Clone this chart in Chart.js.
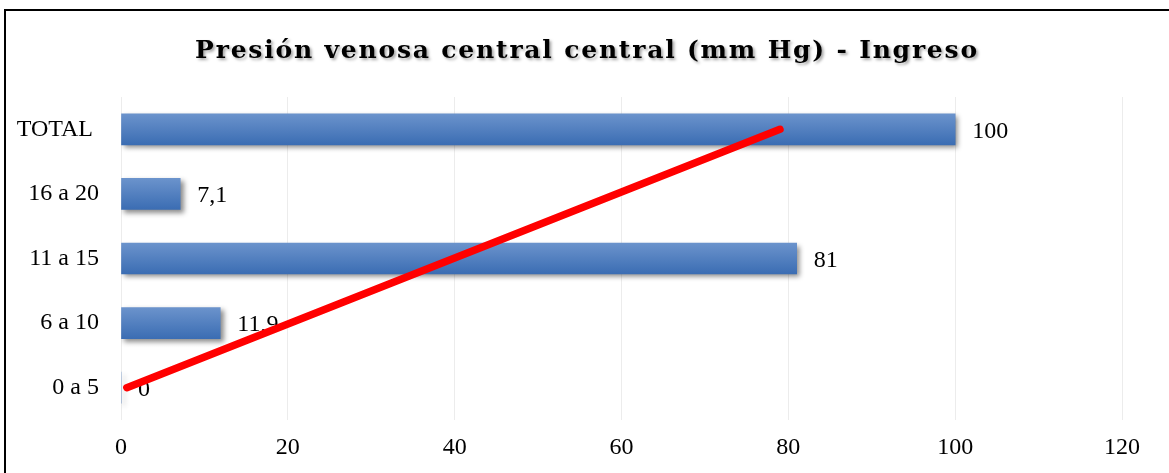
<!DOCTYPE html>
<html>
<head>
<meta charset="utf-8">
<script src="https://cdn.jsdelivr.net/npm/chart.js@4/dist/chart.umd.min.js"></script>
<style>
  html, body { margin: 0; padding: 0; background: #ffffff; }
  #wrap { position: relative; width: 1169px; height: 473px; }
</style>
</head>
<body>
<div id="wrap"><canvas id="c" width="1169" height="473"></canvas></div>
<script>
// Presión venosa central por rangos (mm Hg) al ingreso, en porcentaje
const chartTitle = 'Presión venosa central central (mm Hg) - Ingreso';
const categories = ['TOTAL ', '16 a 20', '11 a 15', '6 a 10', '0 a 5'];
const percentages = [100, 7.1, 81, 11.9, 0];
const valueLabels = ['100', '7,1', '81', '11,9', '0'];
// Línea de tendencia: valor en el eje X en cada extremo
const trendCategories = ['0 a 5', 'TOTAL '];
const trendValues = [0.7, 79];
const xTicks = [0, 20, 40, 60, 80, 100, 120];

const tickFont = { family: '"Liberation Serif", "Times New Roman", serif', size: 24 };
const BAR_THICK = 31;

// Marco negro y fondo blanco
const framePlugin = {
  id: 'frame',
  beforeDraw(chart) {
    const ctx = chart.ctx;
    ctx.save();
    ctx.fillStyle = '#ffffff';
    ctx.fillRect(0, 0, chart.width, chart.height);
    ctx.fillStyle = '#000000';
    ctx.fillRect(4, 9, chart.width, 2);
    ctx.fillRect(4, 9, 2, chart.height);
    ctx.restore();
  }
};

// Título con espaciado entre letras y sombra suave
const titlePlugin = {
  id: 'spacedTitle',
  afterDraw(chart) {
    const ctx = chart.ctx;
    ctx.save();
    ctx.font = 'bold 25px "DejaVu Serif", serif';
    ctx.letterSpacing = '1.8px';
    ctx.textAlign = 'center';
    ctx.textBaseline = 'alphabetic';
    ctx.shadowColor = 'rgba(0,0,0,0.35)';
    ctx.shadowBlur = 3;
    ctx.shadowOffsetX = 2;
    ctx.shadowOffsetY = 2;
    ctx.fillStyle = '#000000';
    ctx.fillText(chartTitle, 587, 58);
    ctx.restore();
  }
};

// Sombra de las barras y etiquetas de valor
const barDecor = {
  id: 'barDecor',
  beforeDatasetDraw(chart, args) {
    if (args.index !== 0) return;
    const ctx = chart.ctx;
    ctx.save();
    ctx.shadowColor = 'rgba(0,0,0,0.45)';
    ctx.shadowBlur = 5;
    ctx.shadowOffsetX = 3;
    ctx.shadowOffsetY = 3;
  },
  afterDatasetDraw(chart, args) {
    if (args.index !== 0) return;
    const ctx = chart.ctx;
    ctx.restore();
    ctx.save();
    ctx.font = '24px "Liberation Serif", "Times New Roman", serif';
    ctx.fillStyle = '#000000';
    ctx.textAlign = 'left';
    ctx.textBaseline = 'middle';
    args.meta.data.forEach((bar, i) => {
      ctx.fillText(valueLabels[i], bar.x + 17, bar.y + 2);
    });
    ctx.restore();
  }
};

function barGradient(context) {
  const chart = context.chart;
  const yScale = chart.scales && chart.scales.y;
  if (!yScale || context.dataIndex === undefined) return '#5581c0';
  const cy = yScale.getPixelForValue(context.dataIndex);
  if (!isFinite(cy)) return '#5581c0';
  const g = chart.ctx.createLinearGradient(0, cy - BAR_THICK / 2, 0, cy + BAR_THICK / 2);
  g.addColorStop(0, '#6b93cc');
  g.addColorStop(1, '#3b6db3');
  return g;
}

new Chart(document.getElementById('c'), {
  type: 'bar',
  data: {
    labels: categories,
    datasets: [
      {
        type: 'bar',
        data: percentages,
        backgroundColor: barGradient,
        borderWidth: 0,
        barThickness: BAR_THICK,
        order: 2
      },
      {
        type: 'line',
        indexAxis: 'y',
        data: trendCategories.map((c, i) => ({ x: trendValues[i], y: c })),
        borderColor: '#ff0000',
        borderWidth: 7.5,
        borderCapStyle: 'round',
        pointRadius: 0,
        fill: false,
        order: 1
      }
    ]
  },
  options: {
    indexAxis: 'y',
    responsive: false,
    animation: false,
    layout: { padding: { top: 97, right: 47, left: 0, bottom: 0 } },
    plugins: {
      legend: { display: false },
      title: { display: false },
      tooltip: { enabled: false }
    },
    scales: {
      x: {
        type: 'linear',
        min: 0,
        max: 120,
        afterBuildTicks(scale) { scale.ticks = xTicks.map(v => ({ value: v })); },
        afterFit(scale) { scale.height = 53; },
        grid: { color: '#ececec', lineWidth: 1, drawTicks: false },
        border: { display: false },
        ticks: { font: tickFont, color: '#000000', padding: 13 }
      },
      y: {
        type: 'category',
        afterFit(scale) { scale.width = 121; },
        grid: { display: false },
        border: { display: false },
        ticks: { font: tickFont, color: '#000000', padding: 14 }
      }
    }
  },
  plugins: [framePlugin, barDecor, titlePlugin]
});
</script>
</body>
</html>
